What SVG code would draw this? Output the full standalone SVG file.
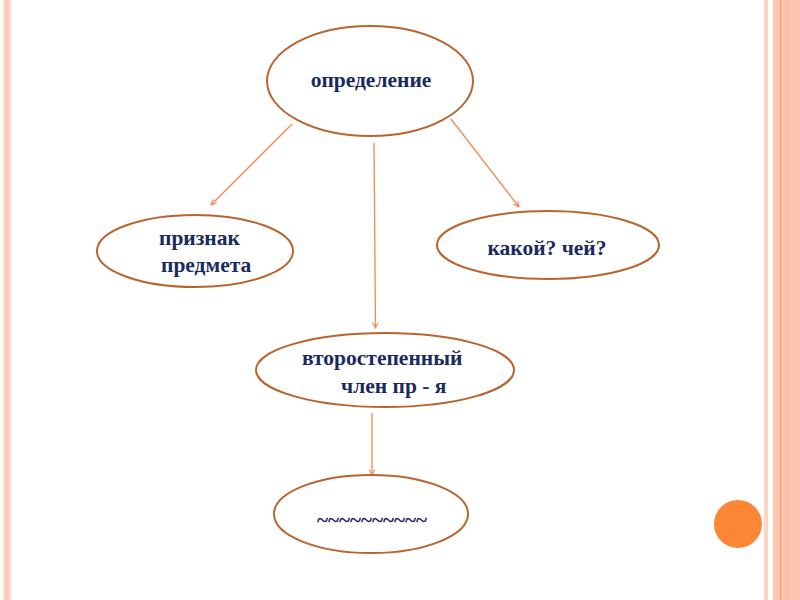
<svg xmlns="http://www.w3.org/2000/svg" width="800" height="600" viewBox="0 0 800 600">
<defs>
<style>
.node ellipse{fill:#fff;stroke:#b9642e;stroke-width:2}
.node text{font-family:"Liberation Serif","Times New Roman",serif;font-weight:bold;font-size:21.5px;fill:#1b2a5c}
.conn line{stroke:#f08a55;stroke-width:1.3;marker-end:url(#ah)}
</style>
<marker id="ah" viewBox="0 0 10 10" refX="9" refY="5" markerWidth="7" markerHeight="7" orient="auto" markerUnits="userSpaceOnUse">
<path d="M1,1 L9,5 L1,9" fill="none" stroke="#f08a55" stroke-width="1.5"/>
</marker>
</defs>
<rect width="800" height="600" fill="#fff"/>
<g id="frame">
<rect x="3" y="0" width="8" height="600" fill="#fde0d4"/>
<rect x="5" y="0" width="4" height="600" fill="#fcc7b3"/>
<rect x="764" y="0" width="4" height="600" fill="#fcd3c4"/>
<rect x="773" y="0" width="27" height="600" fill="#fdc6b0"/>
<rect x="780" y="0" width="1.5" height="600" fill="#f6a07c"/>
<rect x="787" y="0" width="1" height="600" fill="#fbb69a"/>
<circle cx="738" cy="524" r="24" fill="#fd8637"/>
</g>
<g class="conn" id="connectors">
<line x1="292" y1="124" x2="211" y2="205"/>
<line x1="374" y1="143" x2="375.5" y2="328"/>
<line x1="451" y1="119" x2="519" y2="207"/>
<line x1="372" y1="413" x2="372" y2="475"/>
</g>
<g class="node" id="n-opredelenie">
<ellipse cx="370" cy="81" rx="103" ry="55"/>
<text x="371" y="87" text-anchor="middle">определение</text>
</g>
<g class="node" id="n-priznak">
<ellipse cx="195" cy="251" rx="98" ry="36"/>
<text x="159" y="245">признак</text>
<text x="161" y="272">предмета</text>
</g>
<g class="node" id="n-kakoy">
<ellipse cx="548" cy="245" rx="111" ry="34"/>
<text x="547" y="255" text-anchor="middle">какой? чей?</text>
</g>
<g class="node" id="n-vtorost">
<ellipse cx="385" cy="370" rx="129" ry="37"/>
<text x="302" y="365">второстепенный</text>
<text x="341" y="393">член пр - я</text>
</g>
<g class="node" id="n-wave">
<ellipse cx="371" cy="514" rx="97" ry="39"/>
<text x="372" y="527" text-anchor="middle" textLength="110" lengthAdjust="spacingAndGlyphs">~~~~~~~~~~</text>
</g>
</svg>
